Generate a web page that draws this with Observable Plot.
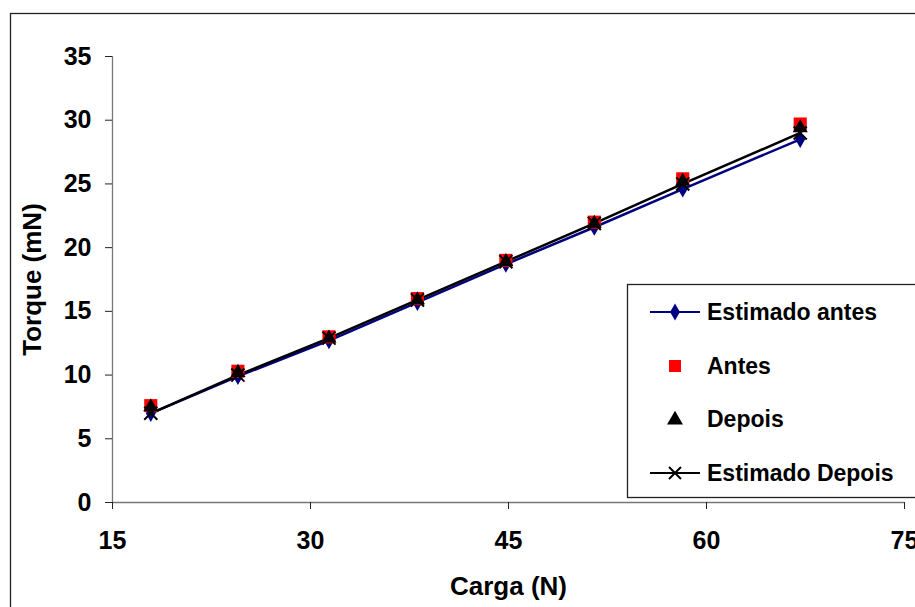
<!DOCTYPE html>
<html>
<head>
<meta charset="utf-8">
<script src="https://cdn.jsdelivr.net/npm/d3@7"></script>
<script src="https://cdn.jsdelivr.net/npm/@observablehq/plot@0.6"></script>
<style>
  html, body { margin: 0; padding: 0; background: #fff; }
  #chart { width: 915px; height: 607px; overflow: hidden; }
</style>
</head>
<body>
<div id="chart"></div>
<script>
// Load (N) applied at each measurement
const carga = [17.9, 24.5, 31.4, 38.1, 44.8, 51.5, 58.2, 67.1];
// Measured torque (mN) before and after
const antes = [7.6, 10.3, 13.0, 16.0, 19.0, 22.0, 25.4, 29.7];
const depois = [7.5, 10.2, 12.9, 15.9, 18.9, 21.9, 25.2, 29.4];
// Estimated torque (mN) before and after
const estimadoAntes = [7.0, 9.9, 12.7, 15.7, 18.7, 21.6, 24.6, 28.5];
const estimadoDepois = [7.0, 10.0, 12.9, 15.9, 18.9, 21.9, 25.0, 29.0];

const xTicks = [15, 30, 45, 60, 75];
const yTicks = [0, 5, 10, 15, 20, 25, 30, 35];

const seriesNames = ["Estimado antes", "Antes", "Depois", "Estimado Depois"];

const rows = (ys) => carga.map((x, i) => ({x, y: ys[i]}));
const dEA = rows(estimadoAntes), dA = rows(antes), dD = rows(depois), dED = rows(estimadoDepois);

const W = 915, H = 607;
const font = "'Liberation Sans', Arial, sans-serif";
const navy = "#000080", red = "#ff0000", black = "#000";

const chart = Plot.plot({
  width: W,
  height: H,
  marginLeft: 112,
  marginRight: 11,
  marginTop: 56,
  marginBottom: 105,
  style: {fontFamily: font, fontWeight: "bold", color: "#000", background: "#fff"},
  x: {domain: [15, 75]},
  y: {domain: [0, 35]},
  marks: [
    Plot.ruleX([15], {stroke: "#777", strokeWidth: 1.3}),
    Plot.ruleY([0], {stroke: "#777", strokeWidth: 1.3}),
    Plot.axisX({ticks: xTicks, tickSize: 7, tickPadding: 22, fontSize: 25, stroke: "#222", strokeOpacity: 1,
      label: "Carga (N)", labelArrow: "none", labelAnchor: "center", labelOffset: 92, tickFormat: d => String(d)}),
    Plot.axisY({ticks: yTicks, tickSize: 7, tickPadding: 14, fontSize: 25, stroke: "#222", strokeOpacity: 1,
      label: "Torque (mN)", labelArrow: "none", labelAnchor: "center", labelOffset: 90, tickFormat: d => String(d)}),
    Plot.line(dEA, {x: "x", y: "y", stroke: navy, strokeWidth: 2.5}),
    Plot.line(dED, {x: "x", y: "y", stroke: black, strokeWidth: 2.5}),
    Plot.dot(dEA, {x: "x", y: "y", symbol: "diamond", r: 5.2, fill: navy}),
    Plot.dot(dA, {x: "x", y: "y", symbol: "square", r: 7.4, fill: red}),
    Plot.dot(dD, {x: "x", y: "y", symbol: "triangle", r: 5.6, fill: black}),
    Plot.dot(dED, {x: "x", y: "y", symbol: "times", r: 6, stroke: black, strokeWidth: 2})
  ]
});

const svg = d3.select(chart);

// Axis title sizes
svg.selectAll("g[aria-label='x-axis label'] text, g[aria-label='y-axis label'] text")
  .attr("font-size", 26);

// Outer chart frame
svg.insert("rect", ":first-child")
  .attr("x", 10.5).attr("y", 13.5).attr("width", W + 20).attr("height", H + 20)
  .attr("fill", "none").attr("stroke", "#222").attr("stroke-width", 1.3);

// Legend box
const lg = svg.append("g").attr("font-family", font).attr("font-weight", "bold").attr("text-anchor", "start");
const lx = 627.5, ly = 284.5, lh = 213;
lg.append("rect").attr("x", lx).attr("y", ly).attr("width", W).attr("height", lh)
  .attr("fill", "#fff").attr("stroke", "#222").attr("stroke-width", 1.3);
const rowY = [312, 366, 419, 473];
const mx = 675;
seriesNames.forEach((name, i) => {
  const y = rowY[i];
  const g = lg.append("g");
  if (i === 0 || i === 3) {
    g.append("line").attr("x1", mx - 25).attr("x2", mx + 25).attr("y1", y).attr("y2", y)
      .attr("stroke", i === 0 ? navy : black).attr("stroke-width", 2);
  }
  if (i === 0) g.append("path").attr("d", d3.symbol(d3.symbolDiamond, 85)()).attr("transform", `translate(${mx},${y})`).attr("fill", navy);
  if (i === 1) g.append("rect").attr("x", mx - 6).attr("y", y - 6).attr("width", 12).attr("height", 12).attr("fill", red);
  if (i === 2) g.append("path").attr("d", d3.symbol(d3.symbolTriangle, 110)()).attr("transform", `translate(${mx},${y + 1})`).attr("fill", black);
  if (i === 3) g.append("path").attr("d", "M-6,-6L6,6M-6,6L6,-6").attr("transform", `translate(${mx},${y})`).attr("stroke", black).attr("stroke-width", 2);
  g.append("text").attr("x", 707).attr("y", y).attr("dy", "0.35em").attr("font-size", 23).attr("fill", "#000").text(name);
});

document.getElementById("chart").appendChild(chart);
</script>
</body>
</html>
